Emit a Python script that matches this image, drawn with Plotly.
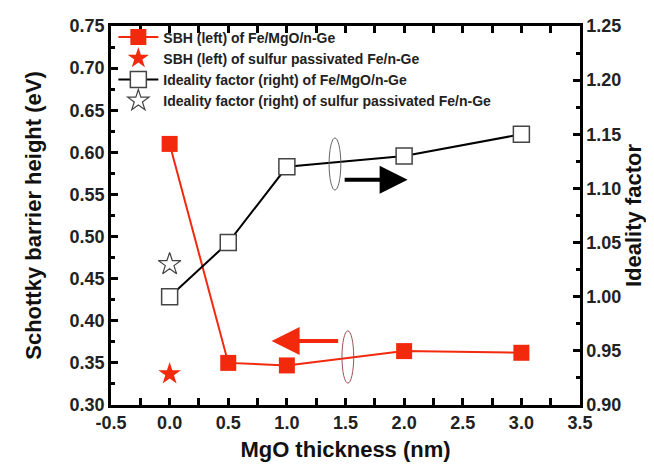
import plotly.graph_objects as go

# ---- data ----
mgo_thickness = [0.0, 0.5, 1.0, 2.0, 3.0]
sbh_fe_mgo = [0.61, 0.35, 0.347, 0.364, 0.362]
ideality_fe_mgo = [1.00, 1.05, 1.12, 1.13, 1.15]
sulfur_x = [0.0]
sbh_sulfur = [0.337]
ideality_sulfur = [1.03]
x_tick_vals = [-0.5, 0.0, 0.5, 1.0, 1.5, 2.0, 2.5, 3.0, 3.5]
x_tick_text = ["-0.5", "0.0", "0.5", "1.0", "1.5", "2.0", "2.5", "3.0", "3.5"]

RED = "#f2290c"
FONT = "Liberation Sans"

fig = go.Figure()
fig.add_trace(go.Scatter(
    x=mgo_thickness, y=sbh_fe_mgo, mode="lines+markers",
    name="SBH (left) of Fe/MgO/n-Ge",
    line=dict(color=RED, width=2),
    marker=dict(symbol="square", size=16, color=RED),
))
fig.add_trace(go.Scatter(
    x=sulfur_x, y=sbh_sulfur, mode="markers",
    name="SBH (left) of sulfur passivated Fe/n-Ge",
    marker=dict(symbol="star", size=17, color=RED),
))
fig.add_trace(go.Scatter(
    x=mgo_thickness, y=ideality_fe_mgo, mode="lines+markers", yaxis="y2",
    name="Ideality factor (right) of Fe/MgO/n-Ge",
    line=dict(color="black", width=2),
    marker=dict(symbol="square", size=16, color="white",
                line=dict(color="#444", width=1.5)),
))
fig.add_trace(go.Scatter(
    x=sulfur_x, y=ideality_sulfur, mode="markers", yaxis="y2",
    name="Ideality factor (right) of sulfur passivated Fe/n-Ge",
    marker=dict(symbol="star-open", size=17, color="#444", line=dict(width=1.2)),
))

tickfont = dict(family=FONT, size=18, color="#222", weight="bold")
titlefont = dict(family=FONT, size=22, color="#111", weight="bold")

fig.update_layout(
    width=654, height=470,
    margin=dict(l=103, r=82, t=18, b=73, autoexpand=False),
    paper_bgcolor="white", plot_bgcolor="white",
    showlegend=True,
    legend=dict(x=0.005, y=1.012, xanchor="left", yanchor="top",
                bgcolor="rgba(0,0,0,0)",
                font=dict(family=FONT, size=14, color="#222", weight="bold"),
                tracegroupgap=0, itemwidth=40),
    xaxis=dict(
        range=[-0.5, 3.5], tickvals=x_tick_vals, ticktext=x_tick_text,
        showline=True, linecolor="black", linewidth=2.5, mirror="allticks",
        ticks="inside", ticklen=7, tickwidth=2.5, tickcolor="black",
        minor=dict(dtick=0.25, ticks="inside", ticklen=4, tickwidth=2.5, tickcolor="black"),
        showgrid=False, zeroline=False, automargin=False,
        tickfont=tickfont,
        title=dict(text="MgO thickness (nm)", font=titlefont, standoff=10),
    ),
    yaxis=dict(
        range=[0.30, 0.75], dtick=0.05, tickformat=".2f",
        showline=True, linecolor="black", linewidth=2.5, mirror=True,
        ticks="inside", ticklen=7, tickwidth=2.5, tickcolor="black",
        minor=dict(dtick=0.025, ticks="inside", ticklen=4, tickwidth=2.5, tickcolor="black"),
        showgrid=False, zeroline=False, automargin=False,
        tickfont=tickfont,
        title=dict(text="Schottky barrier height (eV)", font=titlefont, standoff=22),
    ),
    yaxis2=dict(
        overlaying="y", side="right",
        range=[0.90, 1.25], dtick=0.05, tickformat=".2f",
        showline=True, linecolor="black", linewidth=2.5,
        ticks="inside", ticklen=7, tickwidth=2.5, tickcolor="black",
        minor=dict(dtick=0.025, ticks="inside", ticklen=4, tickwidth=2.5, tickcolor="black"),
        showgrid=False, zeroline=False, automargin=False,
        tickfont=tickfont,
        title=dict(text="Ideality factor", font=titlefont, standoff=2),
    ),
)

# arrows indicating which axis each series belongs to
fig.add_annotation(x=2.03, y=1.108, ax=1.48, ay=1.108, xref="x", yref="y2",
                   axref="x", ayref="y2", text="", showarrow=True,
                   arrowhead=2, arrowsize=1.4, arrowwidth=4, arrowcolor="black")
fig.add_annotation(x=0.87, y=0.376, ax=1.45, ay=0.376, xref="x", yref="y",
                   axref="x", ayref="y", text="", showarrow=True,
                   arrowhead=2, arrowsize=1.4, arrowwidth=4, arrowcolor=RED)

# ellipses
fig.add_shape(type="circle", xref="x", yref="y2", x0=1.36, x1=1.46, y0=1.0985, y1=1.1466,
              line=dict(color="#666", width=1))
fig.add_shape(type="circle", xref="x", yref="y", x0=1.47, x1=1.57, y0=0.326, y1=0.388,
              line=dict(color="#a05058", width=1))

fig.write_html("out.html")
